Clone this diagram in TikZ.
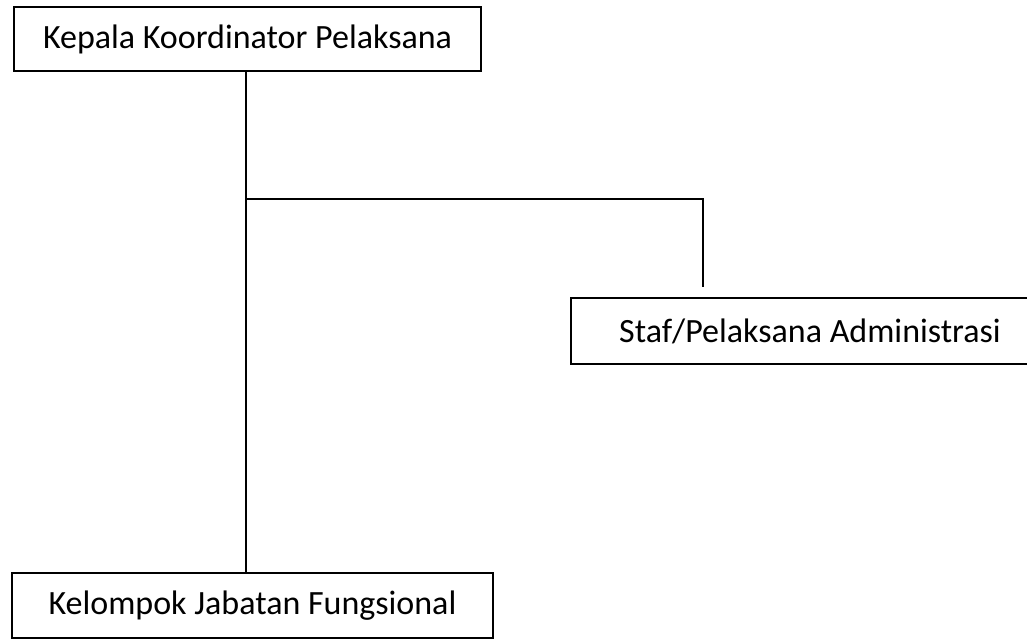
\documentclass[tikz,border=0pt]{standalone}
\usepackage{fontspec}
\setmainfont{Carlito}
\begin{document}
\begin{tikzpicture}[x=0.5pt, y=-0.5pt,
  kotak/.style={draw=black, line width=1.2pt, inner sep=0pt, font=\fontsize{17}{20}\selectfont},
  garis/.style={black, line width=1.2pt}]
  \clip (0,0) rectangle (1027,638);
  \node [kotak, minimum width=233.5pt, minimum height=32pt] (kepala) at (247.5,39) {Kepala Koordinator Pelaksana};
  \node [kotak, minimum width=239pt, minimum height=33pt] (staf) at (810,331) {Staf/Pelaksana Administrasi};
  \node [kotak, minimum width=240.5pt, minimum height=32.5pt] (fungsional) at (252.5,605.5) {Kelompok Jabatan Fungsional};
  \coordinate (cabang) at (246,199);
  \coordinate (sudut) at (703,199);
  \draw [garis] ([xshift=-0.75pt]kepala.south) -- ([xshift=-0.75pt]kepala.south |- fungsional.north);
  \draw [garis, shorten >=5pt] (cabang) -- (sudut) -- (sudut |- staf.north);
\end{tikzpicture}
\end{document}
